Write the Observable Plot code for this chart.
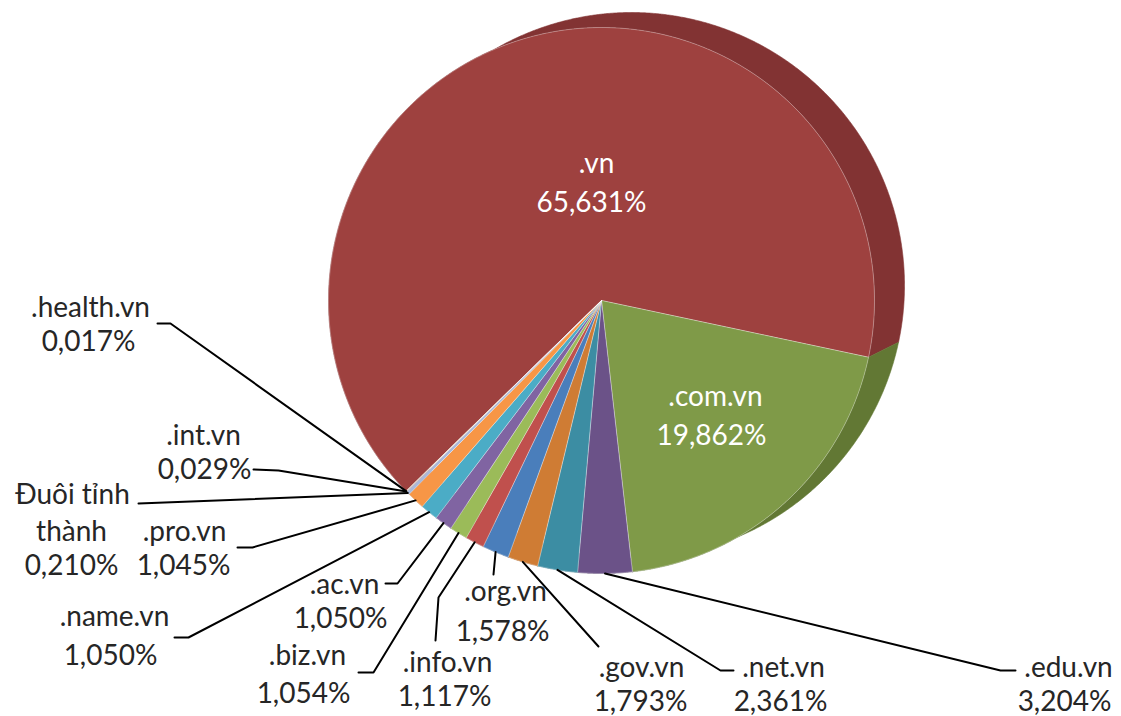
<!DOCTYPE html>
<html>
<head>
<meta charset="utf-8">
<script src="https://cdn.jsdelivr.net/npm/d3@7"></script>
<script src="https://cdn.jsdelivr.net/npm/@observablehq/plot@0.6"></script>
<style>
  html, body { margin: 0; padding: 0; background: #ffffff; }
  #chart svg { display: block; }
</style>
</head>
<body>
<div id="chart"></div>
<script>
// ---- Data ----
const domains = [".vn", ".com.vn", ".edu.vn", ".net.vn", ".gov.vn", ".org.vn", ".info.vn", ".biz.vn", ".ac.vn", ".name.vn", ".pro.vn", "Đuôi tỉnh thành", ".int.vn", ".health.vn"];
const shares = [65.631, 19.862, 3.204, 2.361, 1.793, 1.578, 1.117, 1.054, 1.050, 1.050, 1.045, 0.210, 0.029, 0.017];
const shareLabels = ["65,631%", "19,862%", "3,204%", "2,361%", "1,793%", "1,578%", "1,117%", "1,054%", "1,050%", "1,050%", "1,045%", "0,210%", "0,029%", "0,017%"];
// name lines shown above the percentage
const nameLines = [[".vn"], [".com.vn"], [".edu.vn"], [".net.vn"], [".gov.vn"], [".org.vn"], [".info.vn"], [".biz.vn"], [".ac.vn"], [".name.vn"], [".pro.vn"], ["Đuôi tỉnh", "thành"], [".int.vn"], [".health.vn"]];

// ---- Styles ----
const faceColors = ["#9e413f", "#7f9a48", "#6b5288", "#3c8da3", "#cf7c34", "#4a7ebb", "#c0504d", "#9bbb59", "#8064a2", "#4bacc6", "#f79646", "#a9b8d9", "#d99694", "#c3d69b"];
const sideColors = ["#823333", "#627834", "#55416c", "#2f7082", "#a66329", "#3b6596", "#9a403d", "#7c9647", "#665082", "#3c8a9e", "#c67838", "#8793ae", "#ae7876", "#9cab7c"];
const labelInside = [true, true, false, false, false, false, false, false, false, false, false, false, false, false];

// ---- Layout (pixels) ----
const W = 1121, H = 716;
const cx = 601, cy = 300, R = 273;       // front face of the pie
const depthX = 30, depthY = -15;         // extrusion seen at the back
const joinDeg = 102;                     // d3 angle where .vn meets .com.vn
// label layout: for each slice, [x, baseline] of each text line
const labelLines = [
  [[596, 172], [591, 211]],
  [[715, 405], [711, 444]],
  [[1068, 676], [1064, 710]],
  [[783, 676], [780, 710]],
  [[641, 676], [640, 710]],
  [[505, 600], [502, 640]],
  [[447, 671], [444, 705]],
  [[307, 664], [303, 702]],
  [[344, 593], [340, 627]],
  [[114, 625], [110, 664]],
  [[184, 540], [183, 574]],
  [[72, 503], [71, 540], [71, 574]],
  [[203, 444], [204, 478]],
  [[90, 316], [88, 350]]
];
// leader path points after the slice edge
const leaderPaths = [
  null,
  null,
  [[1000, 670], [1015, 670]],
  [[720, 670], [733, 670]],
  [[598, 646]],
  [[493, 574]],
  [[438, 597], [435, 640]],
  [[373, 672], [358, 672]],
  [[397, 583], [385, 583]],
  [[188, 637], [174, 637]],
  [[252, 547], [237, 547]],
  [[138, 503]],
  [[278, 470], [253, 469]],
  [[170, 323], [157, 323]]
];

// ---- Geometry from the data ----
const rad = Math.PI / 180;
const a0 = joinDeg * rad - shares[0] / 100 * 2 * Math.PI;
const arcs = d3.pie().sort(null).value(d => d).startAngle(a0).endAngle(a0 + 2 * Math.PI)(shares);

function arcPts(s, e, ox, oy) {
  const n = Math.max(2, Math.ceil((e - s) / (0.25 * rad)) + 1);
  const pts = [];
  for (let i = 0; i < n; i++) {
    const a = s + (e - s) * i / (n - 1);
    pts.push({x: cx + ox + R * Math.sin(a), y: cy + oy - R * Math.cos(a)});
  }
  return pts;
}

const sideRows = [], faceRows = [], leaderRows = [], textRows = [];
arcs.forEach((p, i) => {
  const key = domains[i];
  const front = arcPts(p.startAngle, p.endAngle, 0, 0);
  const back = arcPts(p.startAngle, p.endAngle, depthX, depthY).reverse();
  [...front, ...back, front[0]].forEach(q => sideRows.push({key, x: q.x, y: q.y, color: sideColors[i]}));
  [{x: cx, y: cy}, ...front, {x: cx, y: cy}].forEach(q => faceRows.push({key, x: q.x, y: q.y, color: faceColors[i]}));
  const mid = (p.startAngle + p.endAngle) / 2;
  if (leaderPaths[i]) {
    leaderRows.push({key, x: cx + R * Math.sin(mid), y: cy - R * Math.cos(mid)});
    leaderPaths[i].forEach(([x, y]) => leaderRows.push({key, x, y}));
  }
  const lines = [...nameLines[i], shareLabels[i]];
  lines.forEach((t, j) => {
    const [x, y] = labelLines[i][j];
    textRows.push({key, text: t, x, y, color: labelInside[i] ? "#ffffff" : "#262626"});
  });
});

const chart = Plot.plot({
  width: W,
  height: H,
  margin: 0,
  x: {domain: [0, W], range: [0, W], axis: null},
  y: {domain: [0, H], range: [0, H], axis: null},
  color: {type: "identity"},
  style: {background: "#ffffff"},
  marks: [
    Plot.line(sideRows, {x: "x", y: "y", z: "key", fill: "color", stroke: "color", strokeWidth: 0.6, curve: "linear"}),
    Plot.line(faceRows, {x: "x", y: "y", z: "key", fill: "color", stroke: "#ffffff", strokeOpacity: 0.45, strokeWidth: 0.7, curve: "linear"}),
    Plot.line(leaderRows, {x: "x", y: "y", z: "key", stroke: "#000000", strokeWidth: 2, curve: "linear"}),
    Plot.text(textRows, {x: "x", y: "y", text: "text", fill: "color", fontSize: 28, fontFamily: "Lato, 'Open Sans', sans-serif", lineAnchor: "bottom", textAnchor: "middle"})
  ]
});
document.getElementById("chart").appendChild(chart);
</script>
</body>
</html>
